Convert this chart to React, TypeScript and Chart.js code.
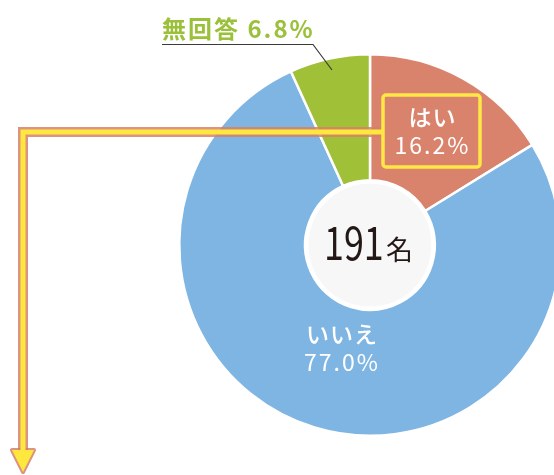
import React, { useEffect, useRef } from "react";
import { Chart, registerables } from "chart.js";

Chart.register(...registerables);

const categories = ["はい", "いいえ", "無回答"];
const values = [16.2, 77.0, 6.8];
const sliceColors = ["#D9836D", "#7EB5E3", "#A0C037"];
const totalCount = 191;
const totalUnit = "名";

const JP = '"Noto Sans CJK JP", "Noto Sans", sans-serif';

const overlayPlugin = {
  id: "overlay",
  afterDraw(chart: any) {
    const ctx = chart.ctx as CanvasRenderingContext2D;
    const meta = chart.getDatasetMeta(0);
    const arc0 = meta.data[0] as any;
    const cx = arc0.x;
    const cy = arc0.y;
    const inner = arc0.innerRadius;

    ctx.save();
    // inner circle
    ctx.beginPath();
    ctx.arc(cx, cy, inner - 2, 0, Math.PI * 2);
    ctx.fillStyle = "#F7F7F7";
    ctx.fill();
    ctx.lineWidth = 3;
    ctx.strokeStyle = "#FFFFFF";
    ctx.stroke();

    // center text
    ctx.fillStyle = "#231815";
    ctx.textBaseline = "alphabetic";
    ctx.textAlign = "left";
    ctx.save();
    ctx.translate(cx - 46, cy + 15);
    ctx.scale(0.78, 1);
    ctx.font = `400 46px ${JP}`;
    ctx.fillText(String(totalCount), 0, 0);
    ctx.restore();
    ctx.font = `400 27px ${JP}`;
    ctx.fillText(totalUnit, cx + 16, cy + 15);

    // arrow from "はい" box
    const boxX = cx + 13, boxY = cy - 150, boxW = 97, boxH = 72;
    const lineY = cy - 113;
    const lineX = 23;
    const tipY = 472;
    ctx.lineJoin = "miter";
    ctx.lineCap = "butt";
    ctx.beginPath();
    ctx.moveTo(boxX, lineY);
    ctx.lineTo(lineX, lineY);
    ctx.lineTo(lineX, tipY - 20);
    ctx.strokeStyle = "rgba(214,128,105,0.85)";
    ctx.lineWidth = 10;
    ctx.stroke();
    // arrowhead outline
    ctx.beginPath();
    ctx.moveTo(lineX - 11, tipY - 22);
    ctx.lineTo(lineX + 11, tipY - 22);
    ctx.lineTo(lineX, tipY);
    ctx.closePath();
    ctx.lineJoin = "round";
    ctx.lineWidth = 4;
    ctx.stroke();
    ctx.fillStyle = "#FFE83E";
    ctx.fill();
    ctx.beginPath();
    ctx.moveTo(boxX, lineY);
    ctx.lineTo(lineX, lineY);
    ctx.lineTo(lineX, tipY - 21);
    ctx.strokeStyle = "#FFE83E";
    ctx.lineJoin = "miter";
    ctx.lineWidth = 5;
    ctx.stroke();

    // yes box
    ctx.beginPath();
    (ctx as any).roundRect(boxX, boxY, boxW, boxH, 3);
    ctx.lineWidth = 3.5;
    ctx.strokeStyle = "#FFE845";
    ctx.stroke();

    const c = ctx as any;
    ctx.fillStyle = "#FFFFFF";
    ctx.textAlign = "center";
    c.letterSpacing = "1px";
    ctx.font = `500 23px ${JP}`;
    ctx.fillText(categories[0], boxX + boxW / 2 + 1, boxY + 31);
    c.letterSpacing = "2px";
    ctx.font = `400 23px ${JP}`;
    ctx.fillText(values[0].toFixed(1) + "%", boxX + boxW / 2 + 1, boxY + 59);

    // no label
    c.letterSpacing = "1px";
    ctx.font = `500 23px ${JP}`;
    ctx.fillText(categories[1], cx - 28, cy + 98);
    c.letterSpacing = "2px";
    ctx.font = `400 23px ${JP}`;
    ctx.fillText(values[1].toFixed(1) + "%", cx - 28, cy + 126);

    // no answer label
    ctx.textAlign = "left";
    ctx.fillStyle = "#9BC03A";
    c.letterSpacing = "2px";
    ctx.font = `700 24px ${JP}`;
    ctx.fillText(categories[2] + " " + values[2].toFixed(1) + "%", 162, 38);
    c.letterSpacing = "0px";
    ctx.beginPath();
    ctx.moveTo(162, 44.5);
    ctx.lineTo(313, 44.5);
    ctx.lineTo(332, 70);
    ctx.strokeStyle = "#3A3A3A";
    ctx.lineWidth = 1.2;
    ctx.stroke();

    ctx.restore();
  },
};

export default function App() {
  const ref = useRef<HTMLCanvasElement | null>(null);
  useEffect(() => {
    if (!ref.current) return;
    const chart = new Chart(ref.current, {
      type: "doughnut",
      data: {
        labels: categories,
        datasets: [
          {
            data: values,
            backgroundColor: sliceColors,
            borderColor: "#FFFFFF",
            borderWidth: 2.5,
          },
        ],
      },
      options: {
        responsive: false,
        animation: false,
        cutout: "34%",
        layout: { padding: { top: 53, bottom: 53, left: 0, right: 0 } },
        plugins: {
          legend: { display: false },
          tooltip: { enabled: false },
        },
      },
      plugins: [overlayPlugin],
    });
    return () => chart.destroy();
  }, []);
  return (
    <div
      style={{
        position: "absolute",
        left: 0,
        top: 0,
        width: 554,
        height: 475,
        overflow: "hidden",
        background: "#FFFFFF",
      }}
    >
      <canvas
        ref={ref}
        width={740}
        height={490}
        style={{ display: "block", width: 740, height: 490 }}
      />
    </div>
  );
}
